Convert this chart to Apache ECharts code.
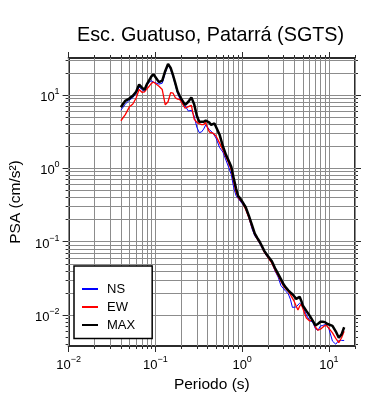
<!DOCTYPE html>
<html>
<head>
<meta charset="utf-8">
<script src="https://cdn.jsdelivr.net/npm/echarts@6/dist/echarts.min.js"></script>
<style>
  html, body { margin: 0; padding: 0; background: #fff; }
  #chart { width: 390px; height: 400px; }
</style>
</head>
<body>
<div id="chart"></div>
<script>
// periodos (s)
const periods = [0.04, 0.045, 0.05, 0.055, 0.06, 0.065, 0.07, 0.075, 0.08, 0.085, 0.09, 0.095,
  0.10, 0.11, 0.12, 0.13, 0.14, 0.15, 0.16, 0.17, 0.18, 0.19, 0.20,
  0.22, 0.24, 0.26, 0.28, 0.30, 0.32, 0.34, 0.36, 0.38, 0.40, 0.42, 0.44, 0.46, 0.48, 0.50,
  0.55, 0.60, 0.65, 0.70, 0.75, 0.80, 0.85, 0.90, 0.95,
  1.0, 1.1, 1.2, 1.3, 1.4, 1.5, 1.6, 1.7, 1.8, 1.9, 2.0,
  2.2, 2.4, 2.6, 2.8, 3.0, 3.2, 3.4, 3.6, 3.8, 4.0, 4.2, 4.4, 4.6, 4.8, 5.0,
  5.5, 6.0, 6.5, 7.0, 7.5, 8.0, 8.5, 9.0, 9.5,
  10, 11, 12, 13, 14, 15];

// PSA (cm/s2)
const ns = [6.2, 7.5, 8.5, 9.2, 10.6, 12.8, 11.9, 11.1, 13.7, 15.0, 15.7, 15.0,
  14.5, 14.1, 14.5, 20.0, 25.7, 22.5, 17.6, 13.7, 10.6, 9.1, 8.3,
  7.1, 6.05, 6.2, 5.17, 3.66, 3.08, 3.13, 3.43, 3.9, 3.72, 3.38, 3.18, 3.03, 2.86, 2.59,
  1.92, 1.67, 1.3, 1.03, 0.82, 0.547, 0.425, 0.388, 0.358,
  0.331, 0.284, 0.21, 0.15, 0.12, 0.107, 0.094, 0.082, 0.072, 0.065, 0.0615,
  0.052, 0.0397, 0.0329, 0.0252, 0.0229, 0.0209, 0.0195, 0.0164, 0.0127, 0.0127, 0.0129, 0.0137, 0.0145, 0.0151, 0.0132,
  0.0100, 0.0084, 0.0080, 0.0065, 0.0062, 0.0071, 0.0072, 0.0074, 0.0072,
  0.0065, 0.0044, 0.0040, 0.0045, 0.0045, 0.0045];

const ew = [4.46, 5.4, 6.85, 7.55, 9.1, 11.9, 10.9, 11.05, 12.2, 13.2, 14.4, 15.1,
  14.4, 13.2, 11.9, 7.35, 8.1, 10.8, 10.6, 9.2, 8.8, 8.7, 8.0,
  6.6, 6.95, 7.25, 4.7, 4.26, 4.08, 3.96, 3.96, 4.26, 3.54, 3.13, 3.3, 3.03, 2.94, 2.76,
  2.21, 1.78, 1.43, 1.18, 0.95, 0.65, 0.475, 0.40, 0.37,
  0.347, 0.275, 0.21, 0.158, 0.125, 0.108, 0.096, 0.084, 0.072, 0.066, 0.062,
  0.051, 0.041, 0.0345, 0.029, 0.0248, 0.0226, 0.021, 0.019, 0.017, 0.0152, 0.0132, 0.0117, 0.0132, 0.0141, 0.0124,
  0.0091, 0.0083, 0.0085, 0.0068, 0.0062, 0.0064, 0.0068, 0.0072, 0.0071,
  0.0069, 0.0057, 0.0048, 0.0042, 0.0049, 0.0060];

const maxv = [6.8, 8.35, 8.95, 9.8, 11.1, 13.9, 12.6, 11.8, 14.1, 16.0, 18.0, 19.2,
  18.1, 15.0, 15.7, 21.3, 26.5, 23.5, 18.5, 14.4, 11.2, 9.85, 8.8,
  7.35, 8.1, 9.3, 7.5, 5.25, 4.32, 4.32, 4.32, 4.5, 4.6, 4.2, 3.92, 4.0, 4.1, 4.08,
  2.88, 2.0, 1.54, 1.27, 1.05, 0.73, 0.535, 0.42, 0.39,
  0.355, 0.295, 0.223, 0.168, 0.129, 0.112, 0.099, 0.086, 0.075, 0.068, 0.065,
  0.054, 0.0434, 0.0364, 0.0309, 0.0262, 0.0236, 0.0217, 0.0203, 0.0192, 0.0179, 0.0166, 0.0162, 0.0177, 0.0157, 0.0135,
  0.0114, 0.0098, 0.0084, 0.0072, 0.0076, 0.0081, 0.0081, 0.0080, 0.0076,
  0.0073, 0.0071, 0.0060, 0.0049, 0.00545, 0.0068];

// ejes
const xMin = 0.01, xMax = 20;
const yMin = 0.00378, yMax = 32;
const xTicks = [0.01, 0.1, 1, 10];
const xTickExp = ['\u22122', '\u22121', '0', '1'];
const yTicks = [0.01, 0.1, 1, 10];
const yTickExp = ['\u22122', '\u22121', '0', '1'];

// divisiones menores 2..9 de cada decada
function minorValues(lo, hi) {
  const out = [];
  for (let e = -3; e <= 2; e++) {
    for (let m = 1; m <= 9; m++) {
      const v = +(m * Math.pow(10, e)).toPrecision(3);
      if (v >= lo && v <= hi) out.push(v);
    }
  }
  return out;
}
const xGrid = minorValues(xMin, xMax);
const yGrid = minorValues(yMin, yMax);
const xMinor = xGrid.filter(v => xTicks.indexOf(v) < 0);
const yMinor = yGrid.filter(v => yTicks.indexOf(v) < 0);

const FONT = 'Liberation Sans, Arial, Helvetica, sans-serif';
const FRAME = '#2b2b2b';
const GRID = '#8c8c8c';
const LINE_ICON = 'path://M0,0H16V2H0Z';

function tickFormatter(ticks, exps) {
  return function (v) {
    for (let i = 0; i < ticks.length; i++) {
      if (Math.abs(Math.log10(v) - Math.log10(ticks[i])) < 1e-6) {
        return '{b|10}{s|' + exps[i] + '}';
      }
    }
    return '';
  };
}
const richLabel = {
  b: { fontSize: 13, fontFamily: FONT, color: '#000', lineHeight: 18, verticalAlign: 'bottom' },
  s: { fontSize: 9, fontFamily: FONT, color: '#000', lineHeight: 18, verticalAlign: 'top', padding: [1, 0, 0, 0] }
};

function xAxisDef(pos, major, labels) {
  return {
    type: 'log', position: pos, min: xMin, max: xMax, logBase: 10,
    name: labels ? 'Periodo (s)' : '',
    nameLocation: 'middle', nameGap: 29,
    nameTextStyle: { fontSize: 15.5, fontFamily: FONT, color: '#000' },
    axisLine: { show: major, onZero: false, lineStyle: { color: FRAME, width: 2 } },
    axisTick: { show: true, inside: false, length: major ? 6 : 3,
      customValues: major ? xTicks : xMinor,
      lineStyle: { color: FRAME, width: 1 } },
    axisLabel: { show: labels, margin: 8, customValues: xTicks,
      formatter: tickFormatter(xTicks, xTickExp), rich: richLabel },
    splitLine: { show: false }, minorTick: { show: false }
  };
}
function yAxisDef(pos, major, labels) {
  return {
    type: 'log', position: pos, min: yMin, max: yMax, logBase: 10,
    name: labels ? 'PSA (cm/s\u00B2)' : '',
    nameLocation: 'middle', nameGap: 37,
    nameTextStyle: { fontSize: 15.5, fontFamily: FONT, color: '#000' },
    axisLine: { show: major, onZero: false, lineStyle: { color: FRAME, width: 2 } },
    axisTick: { show: true, inside: false, length: major ? 6 : 3,
      customValues: major ? yTicks : yMinor,
      lineStyle: { color: FRAME, width: 1 } },
    axisLabel: { show: labels, margin: 9, customValues: yTicks,
      formatter: tickFormatter(yTicks, yTickExp), rich: richLabel },
    splitLine: { show: false }, minorTick: { show: false }
  };
}

const chart = echarts.init(document.getElementById('chart'), null, { renderer: 'canvas' });
chart.setOption({
  animation: false,
  backgroundColor: '#fff',
  title: {
    text: 'Esc. Guatuso, Patarr\u00E1 (SGTS)',
    left: 77, top: 26, padding: 0,
    textStyle: { fontSize: 19.8, fontWeight: 'normal', fontFamily: FONT, color: '#000' }
  },
  grid: { left: 67, right: 35, top: 58, bottom: 54, containLabel: false },
  legend: {
    orient: 'vertical', left: 74, top: 266,
    padding: [16.5, 17, 7, 8], itemGap: 5, itemWidth: 16, itemHeight: 14,
    backgroundColor: '#fff', borderColor: '#000', borderWidth: 1.5, borderRadius: 0,
    textStyle: { fontSize: 13, fontFamily: FONT, color: '#000', padding: [0, 0, 0, 4] },
    data: [
      { name: 'NS', icon: LINE_ICON },
      { name: 'EW', icon: LINE_ICON },
      { name: 'MAX', icon: LINE_ICON }
    ],
    z: 10
  },
  xAxis: [xAxisDef('bottom', true, true), xAxisDef('bottom', false, false),
          xAxisDef('top', true, false), xAxisDef('top', false, false)],
  yAxis: [yAxisDef('left', true, true), yAxisDef('left', false, false),
          yAxisDef('right', true, false), yAxisDef('right', false, false)],
  series: [
    {
      name: 'NS', type: 'line', symbol: 'none', showSymbol: false,
      xAxisIndex: 0, yAxisIndex: 0,
      lineStyle: { color: '#0000ff', width: 1 }, itemStyle: { color: '#0000ff' },
      data: periods.map((t, i) => [t, ns[i]]),
      markLine: {
        silent: true, z: 1, symbol: ['none', 'none'], animation: false,
        label: { show: false }, emphasis: { disabled: true },
        lineStyle: { color: GRID, width: 1, type: 'solid' },
        data: xGrid.map(v => ({ xAxis: v })).concat(yGrid.map(v => ({ yAxis: v })))
      }
    },
    {
      name: 'EW', type: 'line', symbol: 'none', showSymbol: false,
      xAxisIndex: 0, yAxisIndex: 0,
      lineStyle: { color: '#ff0000', width: 1.3 }, itemStyle: { color: '#ff0000' },
      data: periods.map((t, i) => [t, ew[i]])
    },
    {
      name: 'MAX', type: 'line', symbol: 'none', showSymbol: false,
      xAxisIndex: 0, yAxisIndex: 0,
      lineStyle: { color: '#000000', width: 2.5 }, itemStyle: { color: '#000000' },
      data: periods.map((t, i) => [t, maxv[i]])
    }
  ]
});
</script>
</body>
</html>
